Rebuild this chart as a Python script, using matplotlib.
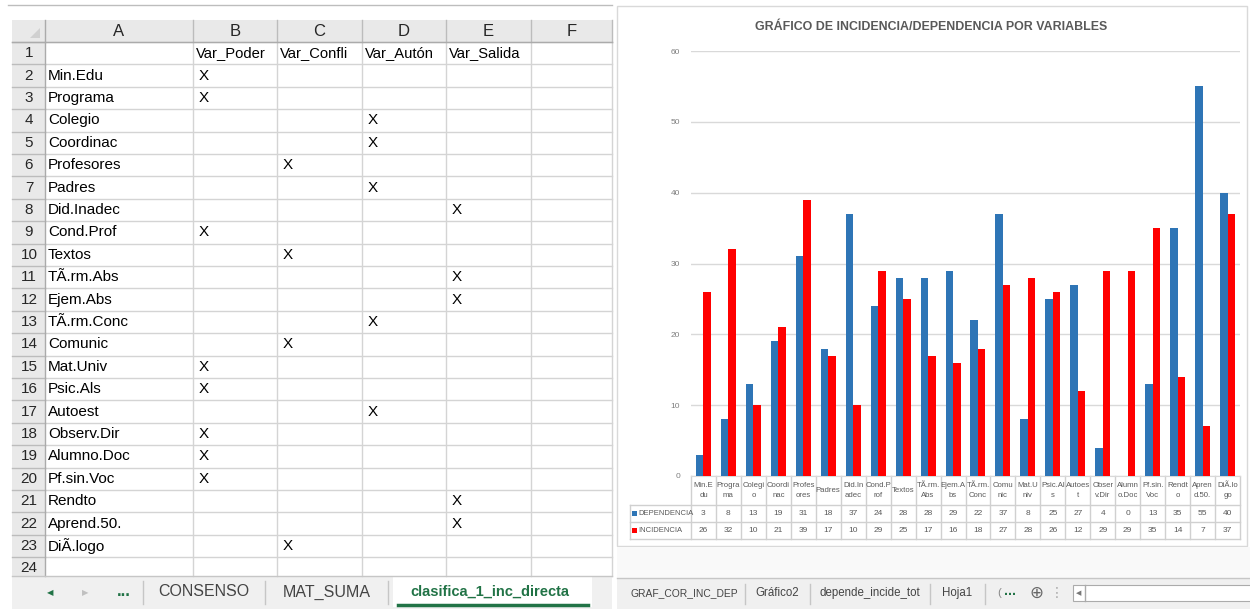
import numpy as np
import matplotlib
matplotlib.use("Agg")
import matplotlib.pyplot as plt
from matplotlib.patches import Rectangle
from matplotlib.lines import Line2D
from matplotlib.transforms import blended_transform_factory

# ---- data ----
variables = ["Min.Edu", "Programa", "Colegio", "Coordinac", "Profesores", "Padres",
             "Did.Inadec", "Cond.Prof", "Textos", "TÃ.rm.Abs", "Ejem.Abs", "TÃ.rm.Conc",
             "Comunic", "Mat.Univ", "Psic.Als", "Autoest", "Observ.Dir", "Alumno.Doc",
             "Pf.sin.Voc", "Rendto", "Aprend.50.", "DiÃ.logo"]
# column of the X mark for every variable (B..E)
var_class = ["B", "B", "D", "D", "C", "D", "E", "B", "C", "E", "E", "D",
             "C", "B", "B", "D", "B", "B", "B", "E", "E", "C"]
class_headers = ["Var_Poder", "Var_Confli", "Var_Autón", "Var_Salida"]
col_letters = ["A", "B", "C", "D", "E", "F"]

chart_labels = ["Min.E\ndu", "Progra\nma", "Colegi\no", "Coordi\nnac", "Profes\nores", "Padres",
                "Did.In\nadec", "Cond.P\nrof", "Textos", "TÃ.rm.\nAbs", "Ejem.A\nbs", "TÃ.rm.\nConc",
                "Comu\nnic", "Mat.U\nniv", "Psic.Al\ns", "Autoes\nt", "Obser\nv.Dir", "Alumn\no.Doc",
                "Pf.sin.\nVoc", "Rendt\no", "Apren\nd.50.", "DiÃ.lo\ngo"]
dependencia = [3, 8, 13, 19, 31, 18, 37, 24, 28, 28, 29, 22, 37, 8, 25, 27, 4, 0, 13, 35, 55, 40]
incidencia = [26, 32, 10, 21, 39, 17, 10, 29, 25, 17, 16, 18, 27, 28, 26, 12, 29, 29, 35, 14, 7, 37]

left_tabs = ["CONSENSO", "MAT_SUMA", "clasifica_1_inc_directa"]
right_tabs = ["GRAF_COR_INC_DEP", "Gráfico2", "depende_incide_tot", "Hoja1"]

W, H = 1250, 609
plt.rcParams["font.family"] = ["Liberation Sans", "DejaVu Sans"]

fig = plt.figure(figsize=(W / 100, H / 100), dpi=100)
fig.patch.set_facecolor("white")


def fx(x):
    return x / W


def fy(y):
    return 1 - y / H


def hline(x0, x1, y, color, lw=1.0):
    fig.add_artist(Line2D([fx(x0), fx(x1)], [fy(y), fy(y)], color=color, lw=lw))


def vline(x, y0, y1, color, lw=1.0):
    fig.add_artist(Line2D([fx(x), fx(x)], [fy(y0), fy(y1)], color=color, lw=lw))


def rect(x0, y0, x1, y1, fc, ec="none", lw=0.8, z=0):
    r = Rectangle((fx(x0), fy(y1)), fx(x1) - fx(x0), fy(y0) - fy(y1),
                  transform=fig.transFigure, facecolor=fc, edgecolor=ec, lw=lw, zorder=z)
    fig.add_artist(r)
    return r


# ---- left: spreadsheet ----
col_edges = [12, 45, 193, 277, 362, 446, 531, 612]
row_top = 42
row_h = 22.4
n_rows = 24
sheet_bottom = 576

hline(8, 612, 5, "#bdbdbd")
rect(12, 20, 612, row_top, "#e9e9e9")
rect(12, row_top, 45, sheet_bottom, "#e9e9e9")
# grid
for i in range(n_rows + 1):
    y = row_top + i * row_h
    if y < sheet_bottom:
        hline(45, 612, y, "#d4d4d4")
        hline(12, 45, y, "#bcbcbc")
for x in col_edges[2:]:
    vline(x, row_top, sheet_bottom, "#d4d4d4")
    vline(x, 20, row_top, "#bcbcbc")
vline(45, 20, sheet_bottom, "#ababab")
hline(12, 612, row_top, "#ababab")
# corner triangle
fig.add_artist(plt.Polygon([[fx(40), fy(38)], [fx(40), fy(28)], [fx(30), fy(38)]],
                           closed=True, transform=fig.transFigure, fc="#d0d0d0", ec="none"))

for j, letter in enumerate(col_letters):
    xc = (col_edges[j + 1] + col_edges[j + 2]) / 2
    fig.text(fx(xc), fy(31.5), letter, ha="center", va="center", fontsize=12,
             color="#262626")

row_clip = rect(12, row_top, 45, sheet_bottom, "none")
for i in range(n_rows):
    yc = row_top + (i + 0.5) * row_h
    t = fig.text(fx(29), fy(yc), str(i + 1), ha="center", va="center", fontsize=11,
                 color="#262626")
    t.set_clip_path(row_clip)

# header row 1
for j, name in enumerate(class_headers):
    x0 = col_edges[j + 2]
    fig.text(fx(x0 + 3), fy(row_top + row_h / 2), name, ha="left", va="center",
             fontsize=10.6, color="black")

for i, name in enumerate(variables):
    yc = row_top + (i + 1.5) * row_h
    fig.text(fx(48), fy(yc), name, ha="left", va="center", fontsize=11, color="black")
    k = col_letters.index(var_class[i])
    fig.text(fx(col_edges[k + 1] + 6), fy(yc), "X", ha="left", va="center", fontsize=11,
             color="black")

# left tab bar
rect(12, sheet_bottom, 612, H, "#f0f0f0")
hline(12, 612, sheet_bottom, "#c6c6c6")
fig.text(fx(50), fy(593), "◀", ha="center", va="center", fontsize=6, color="#217346",
         family=["DejaVu Sans"])
fig.text(fx(85), fy(593), "▶", ha="center", va="center", fontsize=6, color="#c0c0c0",
         family=["DejaVu Sans"])
fig.text(fx(124), fy(591), "...", ha="center", va="center", fontsize=12, color="#217346",
         weight="bold")
tab_edges = [143, 265, 388, 592]
for x in tab_edges[:-1]:
    vline(x, 581, 604, "#c6c6c6")
rect(393, sheet_bottom, 592, 607, "white")
hline(398, 588, 605, "#217346", lw=2.5)
for k, name in enumerate(left_tabs):
    xc = (tab_edges[k] + tab_edges[k + 1]) / 2
    active = k == len(left_tabs) - 1
    fig.text(fx(xc), fy(592), name, ha="center", va="center",
             fontsize=10.5 if active else 11.5,
             color="#217346" if active else "#444444",
             weight="bold" if active else "normal")

# ---- right: chart ----
rect(617, 6, 1247, 546, "white", ec="#d9d9d9", lw=1.0)
fig.text(fx(931), fy(27), "GRÁFICO DE INCIDENCIA/DEPENDENCIA POR VARIABLES", ha="center",
         va="center", fontsize=8.9, weight="bold", color="#595959")

ax = fig.add_axes([fx(691), fy(476), fx(1240) - fx(691), fy(51) - fy(476)])
ax.set_facecolor("none")
x = np.arange(len(dependencia))
bw = 0.3
ax.bar(x - bw / 2, dependencia, bw, color="#2e75b6", zorder=3)
ax.bar(x + bw / 2, incidencia, bw, color="#ff0000", zorder=3)
ax.set_xlim(-0.5, len(x) - 0.5)
ax.set_ylim(0, 60)
ax.set_yticks(np.arange(0, 61, 10))
ax.yaxis.grid(True, color="#d9d9d9", lw=1.0, zorder=0)
ax.tick_params(axis="y", length=0, labelsize=6, labelcolor="#7f7f7f", pad=8)
ax.set_xticks([])
for s in ["top", "right", "left"]:
    ax.spines[s].set_visible(False)
ax.spines["bottom"].set_color("#d9d9d9")

# data table under the axis
tr = blended_transform_factory(ax.transData, fig.transFigure)
tcol = "#d0d0d0"
for k in range(len(x) + 1):
    ax.add_line(Line2D([k - 0.5, k - 0.5], [fy(476), fy(539)], transform=tr, color=tcol,
                       lw=1.0, clip_on=False))
for yy in [505, 522, 539]:
    hline(630, 1240, yy, tcol)
vline(630, 505, 539, tcol)
for k in range(len(x)):
    ax.text(k, fy(490.5), chart_labels[k], transform=tr, ha="center", va="center",
            fontsize=5.6, color="#595959", linespacing=1.45)
    ax.text(k, fy(513.5), str(dependencia[k]), transform=tr, ha="center", va="center",
            fontsize=6, color="#595959")
    ax.text(k, fy(530.5), str(incidencia[k]), transform=tr, ha="center", va="center",
            fontsize=6, color="#595959")
rect(632, 511, 637, 516, "#2e75b6", z=5)
rect(632, 528, 637, 533, "#ff0000", z=5)
fig.text(fx(638.5), fy(513.5), "DEPENDENCIA", ha="left", va="center", fontsize=5.5,
         color="#595959")
fig.text(fx(638.5), fy(530.5), "INCIDENCIA", ha="left", va="center", fontsize=5.5,
         color="#595959")

# right tab bar
rect(617, 547, 1250, 578, "#f9f9f9")
rect(617, 578, 1250, H, "#f0f0f0")
hline(617, 1250, 578, "#c6c6c6")
rtab_edges = [624, 745, 810, 930, 985]
for xx in rtab_edges[1:]:
    vline(xx, 584, 604, "#c6c6c6")
for k, name in enumerate(right_tabs):
    xc = (rtab_edges[k] + rtab_edges[k + 1]) / 2
    fig.text(fx(xc), fy(593), name, ha="center", va="center",
             fontsize=7.4 if k == 0 else 8.3, color="#444444")
fig.text(fx(999), fy(593), "(", ha="center", va="center", fontsize=8, color="#888888")
fig.text(fx(1010), fy(591), "...", ha="center", va="center", fontsize=10, color="#217346",
         weight="bold")
fig.text(fx(1036), fy(593), "⊕", ha="center", va="center", fontsize=12, color="#666666",
         family=["DejaVu Sans"])
fig.text(fx(1057), fy(593), "⋮", ha="center", va="center", fontsize=10, color="#aaaaaa",
         family=["DejaVu Sans"])
rect(1073, 585, 1252, 601, "white", ec="#ababab", lw=0.8)
vline(1085, 585, 601, "#ababab")
fig.text(fx(1079), fy(593), "◀", ha="center", va="center", fontsize=5, color="#777777",
         family=["DejaVu Sans"])

fig.savefig("out.png", dpi=100)
